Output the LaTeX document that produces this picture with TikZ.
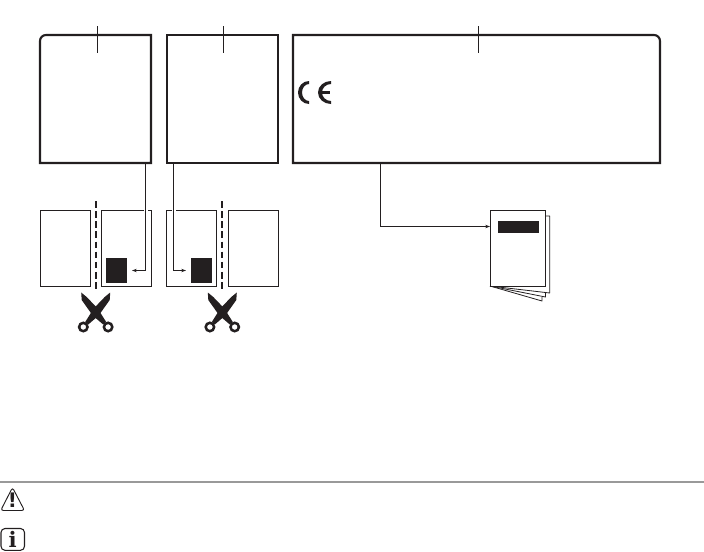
\documentclass[tikz,border=0pt]{standalone}
\usepackage{fontspec}
\newfontfamily\iconfont{DejaVu Serif}
\newfontfamily\warnfont{DejaVu Sans}
\usetikzlibrary{arrows.meta}
\definecolor{inkblack}{RGB}{35,31,32}
\tikzset{
        panel/.style={draw=inkblack,line width=1.6pt},
        page/.style={draw=inkblack,line width=.7pt,minimum width=37.5pt,minimum height=57pt,inner sep=0pt,outer sep=0pt},
        block/.style={fill=inkblack,minimum width=15.75pt,minimum height=18.75pt,inner sep=0pt,outer sep=0pt},
        link/.style={draw=inkblack,line width=.6pt,-{Stealth[length=3.5pt,width=2.5pt]}},
        halo/.style={preaction={draw=white,line width=3pt,-}},
        tick/.style={draw=inkblack,line width=.6pt},
        cutline/.style={draw=inkblack,line width=1.6pt,dash pattern=on 5pt off 2.6pt},
        leaf/.style={draw=inkblack,fill=white,line width=.6pt,line join=round}
}
\begin{document}
\begin{tikzpicture}[x=.75pt,y=-.75pt]
        \useasboundingbox (0,0) rectangle (704,551);
        \def\blade{(-14.5,-20.5) -- (-9,-16) -- (2,-4.5) -- (10.5,9) -- (7.5,11.5) -- (-3,2.5) -- (-14,-13) -- cycle}

        % Cut sheets with their black marks
        \node[page] (pagea) at (65,248) {};
        \node[page] (pageb) at (126.5,248) {};
        \node[page] (pagec) at (191.5,248) {};
        \node[page] (paged) at (253,248) {};
        \node[block] (blocka) at (116.5,270.5) {};
        \node[block] (blockb) at (201.5,270.5) {};
        \draw[cutline] (95.7,201) -- (95.7,291);
        \draw[cutline] (221.7,201) -- (221.7,291);

        % Connectors
        \coordinate (starta) at (145.7,163);
        \coordinate (startb) at (173.5,163);
        \coordinate (startc) at (380.3,163);
        \coordinate (bookin) at (490,226.5);
        \draw[link,halo,shorten >=3.75pt] (starta) |- (blocka.east);
        \draw[link,halo,shorten >=3.75pt] (startb) |- (blockb.west);

        % Plates on top
        \draw[panel] (151,163) -- (151,35) -- (46,35) arc (-90:-180:6) -- (40,163) -- cycle;
        \draw[panel] (167,35) rectangle (278,163);
        \draw[panel] (293,163) -- (293,35) -- (654,35) arc (-90:0:6) -- (660,163) -- cycle;
        \draw[tick] (97.5,26) -- (97.5,53);
        \draw[tick] (223.3,26) -- (223.3,53);
        \draw[tick] (478.5,26) -- (478.5,53);

        % CE mark
        \fill[inkblack] (309,81) arc (-90:-270:11 and 11.5) -- (309,101) arc (-270:-90:7 and 8.5) -- cycle;
        \fill[inkblack] (331,81) arc (-90:-270:13 and 11.5) -- (331,101) arc (-270:-90:9 and 8.5) -- cycle;
        \fill[inkblack] (320,91.2) rectangle (329.5,93.8);

        % Booklet
        \draw[leaf] (490,286) -- (542,301) -- (542,297);
        \draw[leaf] (490,286) -- (545.5,297) -- (545.5,293);
        \draw[leaf] (490,286) -- (549.7,293) -- (549.7,216) -- (545,216);
        \node[page,fill=white,minimum width=41.5pt] (bookfront) at (517.7,248) {};
        \node[block,minimum width=30.75pt,minimum height=9pt] (bookbar) at (518.5,227) {};
        \draw[link] (startc) |- (bookin);

        % Scissors
        \foreach \x in {95.7,222.3} {
                \foreach \m in {1,-1} {
                        \begin{scope}[shift={(\x,313)},xscale=\m]
                                \fill[inkblack] \blade;
                                \draw[inkblack,line width=1.9pt] (-12.4,14) circle (4.2);
                        \end{scope}
                }
        }

        % Footer rule and icons
        \draw[gray!80,line width=1.2pt] (0,481.7) -- (704,481.7);
        \draw[inkblack,line width=.7pt,rounded corners=2pt] (12.5,487.5) -- (24.5,510.5) -- (.7,510.5) -- cycle;
        \node[inkblack,inner sep=0pt] (warnmark) at (12.5,500.5) {\warnfont\fontsize{15}{15}\selectfont\bfseries !};
        \draw[inkblack,line width=.8pt,rounded corners=3pt] (1,528.5) rectangle (24.5,550.3);
        \node[inkblack,inner sep=0pt] (infomark) at (12.7,539) {\iconfont\fontsize{16}{16}\selectfont\bfseries i};
\end{tikzpicture}
\end{document}
